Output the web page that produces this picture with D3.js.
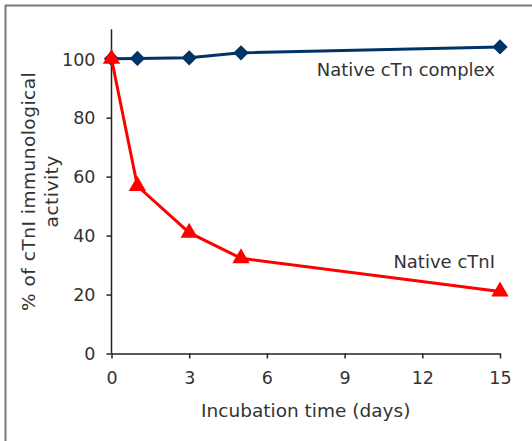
<!DOCTYPE html>
<html><head><meta charset="utf-8">
<script src="https://cdn.jsdelivr.net/npm/d3@7"></script>
<style>
html,body{margin:0;padding:0;background:#fff;}
svg{display:block;}
text{font-family:"DejaVu Sans",sans-serif;fill:#333;}
</style></head>
<body>
<script>
const days = [0, 1, 3, 5, 15];
const complexValues = [100, 100.1, 100.3, 102, 104];
const cTnIValues = [100, 56.8, 41, 32.3, 21];
const xTicks = [0, 3, 6, 9, 12, 15];
const yTicks = [0, 20, 40, 60, 80, 100];
const seriesNames = ["Native cTn complex", "Native cTnI"];

const W = 532, H = 441;
const FS = "18px";
const svg = d3.select("body").append("svg").attr("width", W).attr("height", H);

// frame
svg.append("line").attr("x1",5).attr("x2",W).attr("y1",5.5).attr("y2",5.5).attr("stroke","#7a7a7a").attr("stroke-width",2);
svg.append("line").attr("x1",5.5).attr("x2",5.5).attr("y1",5).attr("y2",H).attr("stroke","#7a7a7a").attr("stroke-width",2);

const x = d3.scaleLinear().domain([0,15]).range([111.5, 500]);
const y = d3.scaleLinear().domain([0,100]).range([353.5, 58.7]);

const gx = svg.append("g").attr("transform",`translate(0,${y(0)})`)
  .call(d3.axisBottom(x).tickValues(xTicks).tickSize(5).tickSizeOuter(0).tickPadding(13));
const gy = svg.append("g").attr("transform",`translate(${x(0)},0)`)
  .call(d3.axisLeft(y).tickValues(yTicks).tickSize(5).tickSizeOuter(0).tickPadding(11));
[gx, gy].forEach(g => {
  g.selectAll("path, line").attr("stroke","#222").attr("stroke-width",1.5);
  g.selectAll("text").style("font-size","17.5px").style("font-family","DejaVu Sans").attr("fill","#333");
});
gy.select(".domain").attr("d", `M0,${y(0)}V${y(110)}`);
gy.selectAll("text").attr("dy","0.36em");

// axis titles
svg.append("text").attr("x", (x(0)+x(15))/2).attr("y", 417).attr("text-anchor","middle")
  .style("font-size","18.5px").text("Incubation time (days)");
const yl = svg.append("text").attr("transform",`translate(35,${(y(0)+y(110))/2}) rotate(-90)`)
  .attr("text-anchor","middle").style("font-size","18.5px").style("letter-spacing","0.5px");
yl.append("tspan").attr("x",0).attr("dy",0).text("% of cTnI immunological");
yl.append("tspan").attr("x",0).attr("dy","1.25em").text("activity");

const line = d3.line().x(d => x(d[0])).y(d => y(d[1]));

// complex series
const cData = days.map((d,i)=>[d, complexValues[i]]);
svg.append("path").datum(cData).attr("d", line).attr("fill","none").attr("stroke","#003466").attr("stroke-width",3);
svg.selectAll(".dia").data(cData).enter().append("path")
  .attr("transform", d=>`translate(${x(d[0])},${y(d[1])})`)
  .attr("d", d3.symbol(d3.symbolDiamond2, 150)).attr("fill","#003466");

// cTnI series
const iData = days.map((d,i)=>[d, cTnIValues[i]]);
svg.append("path").datum(iData).attr("d", line).attr("fill","none").attr("stroke","#ff0000").attr("stroke-width",3);
svg.selectAll(".tri").data(iData).enter().append("path")
  .attr("transform", d=>`translate(${x(d[0])},${y(d[1])})`)
  .attr("d", d3.symbol(d3.symbolTriangle, 130)).attr("fill","#ff0000");

// labels
svg.append("text").attr("x", 495).attr("y", 76).attr("text-anchor","end").style("font-size",FS).text(seriesNames[0]);
svg.append("text").attr("x", 495).attr("y", 268).attr("text-anchor","end").style("font-size",FS).text(seriesNames[1]);
</script>
</body></html>
